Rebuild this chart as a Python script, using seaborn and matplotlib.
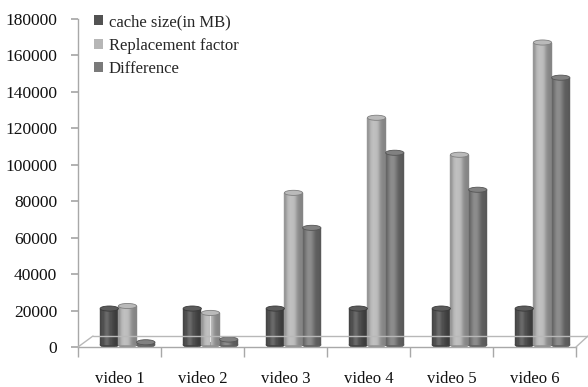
import numpy as np
import pandas as pd
import matplotlib
matplotlib.use("Agg")
import matplotlib.pyplot as plt
import seaborn as sns
from matplotlib import transforms, colors as mcolors
from matplotlib.patches import Rectangle, Ellipse, Patch
from matplotlib.lines import Line2D

# ---- data ----
videos = ["video 1", "video 2", "video 3", "video 4", "video 5", "video 6"]
series_names = ["cache size(in MB)", "Replacement factor", "Difference"]
cache_size = [20000, 20000, 20000, 20000, 20000, 20000]
replacement = [21400, 17600, 83500, 124700, 104400, 166000]
difference = [1500, 3000, 64300, 105500, 85200, 146700]
yticks = [0, 20000, 40000, 60000, 80000, 100000, 120000, 140000, 160000, 180000]

bar_colors = ["#525252", "#b6b6b6", "#7a7a7a"]

df = pd.DataFrame({
    "video": videos * 3,
    "series": [series_names[0]] * 6 + [series_names[1]] * 6 + [series_names[2]] * 6,
    "value": cache_size + replacement + difference,
})

sns.set_theme(style="white")
plt.rcParams["font.family"] = ["Liberation Serif", "DejaVu Serif"]

W, H = 588, 387
fig = plt.figure(figsize=(W / 100, H / 100), dpi=100)
ax = fig.add_axes([78 / W, 40 / H, (576 - 78) / W, (347 - 19) / H])

sns.barplot(data=df, x="video", y="value", hue="series", palette=bar_colors,
            width=0.66, saturation=1, ax=ax, legend=False, dodge=True)

ax.set_ylim(0, 180000)
ax.set_xlim(-0.5, 5.5)

# pseudo-3D offset for the bars
off = ax.transData + transforms.ScaledTranslation(8 / 100, 2 / 100, fig.dpi_scale_trans)

def shade(rgb, f):
    rgb = np.array(rgb)
    if f >= 1:
        return tuple(rgb + (1 - rgb) * (f - 1))
    return tuple(rgb * f)

ell_h = 2800
n_strips = 16
bars = list(ax.patches)
for p in bars:
    x, w, h = p.get_x(), p.get_width(), p.get_height()
    if h <= 0 or np.isnan(h):
        continue
    base = mcolors.to_rgb(p.get_facecolor())
    p.set_visible(False)
    # bottom ellipse
    ax.add_patch(Ellipse((x + w / 2, 0), w, ell_h, transform=off,
                         facecolor=shade(base, 0.8), edgecolor=shade(base, 0.7),
                         lw=0.5, zorder=2, clip_on=False))
    for i in range(n_strips):
        t = (i + 0.5) / n_strips
        f = 0.72 + 0.42 * np.exp(-((t - 0.38) / 0.3) ** 2)
        c = shade(base, f)
        ax.add_patch(Rectangle((x + i * w / n_strips, 0), w / n_strips, h,
                               transform=off, facecolor=c, edgecolor=c,
                               lw=0.3, zorder=3, clip_on=False))
    ax.add_patch(Ellipse((x + w / 2, h), w, ell_h, transform=off,
                         facecolor=shade(base, 1.05), edgecolor=shade(base, 0.7),
                         lw=0.6, zorder=4, clip_on=False))

# axes styling
for s in ["top", "right"]:
    ax.spines[s].set_visible(False)
for s in ["left", "bottom"]:
    ax.spines[s].set_color("#a8a8a8")
    ax.spines[s].set_linewidth(1.0)

ax.set_yticks(yticks)
ax.set_yticklabels([str(v) for v in yticks], fontsize=12.5, color="#111111")
ax.tick_params(axis="y", which="major", length=5, color="#a8a8a8", pad=10, left=True)

ax.set_xticks(range(len(videos)))
ax.set_xticklabels(videos, fontsize=12, color="#111111")
ax.tick_params(axis="x", which="major", length=0, pad=17)
ax.set_xticks(np.arange(-0.5, 6, 1), minor=True)
ax.tick_params(axis="x", which="minor", length=7, color="#a8a8a8", bottom=True, width=1)
ax.set_xlabel("")
ax.set_ylabel("")

# floor of the 3-D look (figure pixel coordinates)
def px(xp, yp):
    return xp / W, 1 - yp / H

floor = [((78, 347), (93, 336)), ((93, 336), (588, 336)), ((576, 347), (588, 336))]
for (a, b) in floor:
    (x0, y0), (x1, y1) = px(*a), px(*b)
    fig.add_artist(Line2D([x0, x1], [y0, y1], transform=fig.transFigure,
                          color="#b8b8b8", lw=1.0, zorder=1))

handles = [Patch(facecolor=c, edgecolor="none") for c in bar_colors]
fig.legend(handles, series_names, loc="upper left",
           bbox_to_anchor=(94 / W, 1 - 14 / H), frameon=False,
           fontsize=12, handlelength=0.55, handleheight=0.55, handletextpad=0.35,
           labelspacing=0.45, borderpad=0, borderaxespad=0)

fig.savefig("out.png", dpi=100)
